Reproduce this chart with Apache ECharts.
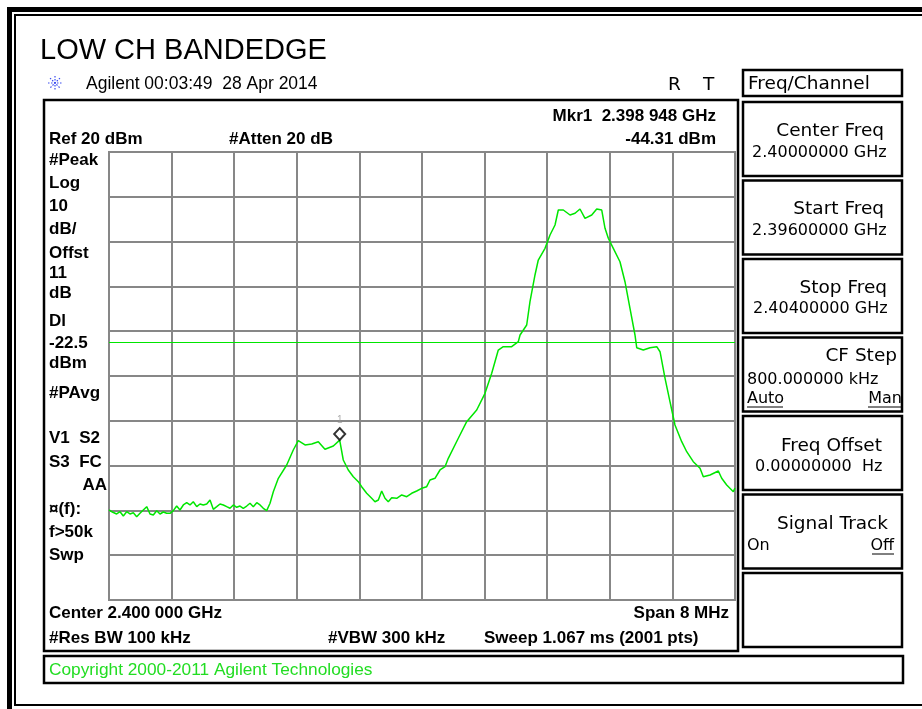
<!DOCTYPE html>
<html>
<head>
<meta charset="utf-8">
<script src="https://cdn.jsdelivr.net/npm/echarts@6/dist/echarts.min.js"></script>
<style>
    html, body { margin: 0; padding: 0; background: #fff; }
    #char1 { width: 922px; height: 709px; }
</style>
</head>
<body>
<div id="char1"></div>
<script>
// trace: frequency (MHz) / level (dBm)
var freqMHz = [
    // noise floor
    2396.000, 2396.035, 2396.098, 2396.141, 2396.183, 2396.226, 2396.268, 2396.311, 2396.354, 2396.396,
    2396.438, 2396.482, 2396.524, 2396.566, 2396.610, 2396.652, 2396.694, 2396.737, 2396.780, 2396.822,
    2396.865, 2396.907, 2396.950, 2396.993, 2397.035, 2397.077, 2397.121, 2397.163, 2397.205, 2397.249,
    2397.291, 2397.333, 2397.377, 2397.419, 2397.461, 2397.504, 2397.546, 2397.589, 2397.632, 2397.674,
    2397.716, 2397.760, 2397.802, 2397.844, 2397.888, 2397.930, 2397.972, 2398.015, 2398.058, 2398.100,
    // first hump
    2398.164, 2398.271, 2398.355, 2398.419, 2398.505, 2398.591, 2398.675, 2398.760, 2398.867, 2398.948,
    // valley
    2398.994, 2399.058, 2399.122, 2399.186, 2399.229, 2399.293, 2399.357, 2399.399, 2399.442, 2399.485,
    2399.527, 2399.569, 2399.613, 2399.677, 2399.741, 2399.805, 2399.868, 2399.932, 2399.996, 2400.060,
    2400.102, 2400.166, 2400.230, 2400.294, 2400.336,
    // main lobe and upper skirt
    2400.464, 2400.571, 2400.699, 2400.805, 2400.891, 2400.975, 2401.039, 2401.146, 2401.231, 2401.253,
    2401.338, 2401.380, 2401.444, 2401.486, 2401.572, 2401.636, 2401.700, 2401.742, 2401.806, 2401.892,
    2401.956, 2402.019, 2402.083, 2402.169, 2402.233, 2402.297, 2402.339, 2402.381, 2402.445, 2402.530,
    2402.594, 2402.658, 2402.722, 2402.744, 2402.828, 2402.914, 2403.000, 2403.042, 2403.106, 2403.169,
    2403.233, 2403.319, 2403.383, 2403.467, 2403.553, 2403.595, 2403.681, 2403.787, 2403.830, 2403.894,
    2403.979, 2404.000];
var levelDbm = [
    -59.91, -60.29, -60.80, -60.29, -61.25, -60.29, -60.80, -60.51, -61.40, -60.65,
    -59.91, -59.17, -60.80, -61.03, -60.06, -60.80, -60.36, -60.65, -60.65, -60.06,
    -59.02, -59.91, -58.79, -58.28, -58.79, -58.06, -59.17, -58.57, -58.79, -58.57,
    -57.68, -59.75, -59.17, -58.57, -58.79, -59.17, -59.53, -58.79, -59.31, -59.02,
    -59.53, -59.02, -58.41, -59.17, -58.28, -58.79, -59.53, -60.06, -58.41, -55.82,
    -52.83, -49.87, -46.52, -44.44, -45.40, -45.18, -44.66, -46.36, -45.62, -44.31,
    -48.75, -50.98, -52.48, -53.59, -54.71, -56.18, -57.30, -58.06, -57.68, -55.67,
    -57.30, -58.06, -57.16, -57.30, -56.56, -56.94, -56.18, -55.67, -55.07, -54.71,
    -53.21, -52.83, -50.98, -50.24, -48.37,
    -43.90, -40.20, -37.59, -33.86, -29.40, -24.20, -23.46, -23.46, -22.34, -20.85,
    -18.62, -13.41, -7.45, -4.11, -1.50, 1.47, 3.71, 7.05, 7.05, 5.94,
    6.32, 7.28, 5.20, 5.94, 7.28, 7.05, 2.97, 0.74, -1.50, -4.49,
    -8.95, -14.89, -20.85, -23.68, -24.20, -23.68, -23.46, -24.58, -30.51, -35.74,
    -40.94, -44.66, -46.90, -49.13, -50.60, -52.48, -52.10, -51.20, -52.83, -54.33,
    -55.82, -55.00];

var marker = [2398.948, -44.31];   // Mkr1
var displayLine = -22.5;            // DL
var refLevel = 20, dbPerDiv = 10;   // Ref 20 dBm, 10 dB/div
var startMHz = 2396, stopMHz = 2404, stepMHz = 0.8;

var leftLabels = ['#Peak', 'Log', '10', 'dB/', 'Offst', '11', 'dB', 'Dl', '-22.5', 'dBm', '#PAvg',
    'V1  S2', 'S3  FC', 'AA', '\u00a4(f):', 'f>50k', 'Swp'];
var leftLabelY = [160, 183, 206, 229, 253, 273, 293, 321, 343, 363, 393, 438, 462, 485, 509, 532, 555];

var traceData = [];
var n = Math.min(freqMHz.length, levelDbm.length);
for (var i = 0; i < n; i++) {
    traceData.push([freqMHz[i], levelDbm[i]]);
}

var BOLD = 'bold 17px "Liberation Sans", Arial, sans-serif';
var PANEL = '18.5px "DejaVu Sans", sans-serif';
var PANEL_SM = '16px "DejaVu Sans", sans-serif';

function txt(x, y, s, font, fill, align) {
    return {
        type: 'text', x: x, y: y, silent: true,
        style: {text: s, font: font, fill: fill || '#000', textAlign: align || 'left', textVerticalAlign: 'middle'}
    };
}
function box(x, y, w, h, lw) {
    return {
        type: 'rect', silent: true, shape: {x: x, y: y, width: w, height: h},
        style: {fill: null, stroke: '#000', lineWidth: lw || 2.5}
    };
}
function bar(x, y, w, h) {
    return {type: 'rect', silent: true, shape: {x: x, y: y, width: w, height: h}, style: {fill: '#000'}};
}
function uline(x1, x2, y) {
    return {type: 'line', silent: true, shape: {x1: x1, y1: y, x2: x2, y2: y}, style: {stroke: '#000', lineWidth: 1}};
}

var graphics = [
    // outer double frame
    bar(7, 7, 915, 5), bar(7, 7, 5, 702),
    bar(14, 14, 908, 2), bar(14, 14, 2, 692), bar(14, 704, 908, 2),
    // screen and copyright boxes
    box(44, 100, 694, 551), box(44, 656, 859, 27),
    // title lines
    txt(40, 51, 'LOW CH BANDEDGE', '29px "Liberation Sans", Arial, sans-serif'),
    txt(86, 84, 'Agilent 00:03:49  28 Apr 2014', '17.5px "Liberation Sans", Arial, sans-serif'),
    txt(668, 85, 'R', PANEL), txt(703, 85, 'T', PANEL),
    // header inside screen
    txt(49, 139, 'Ref 20 dBm', BOLD), txt(229, 139, '#Atten 20 dB', BOLD),
    txt(716, 116, 'Mkr1  2.398 948 GHz', BOLD, '#000', 'right'),
    txt(716, 139, '-44.31 dBm', BOLD, '#000', 'right'),
    // footer inside screen
    txt(49, 613, 'Center 2.400 000 GHz', BOLD), txt(729, 613, 'Span 8 MHz', BOLD, '#000', 'right'),
    txt(49, 638, '#Res BW 100 kHz', BOLD), txt(328, 638, '#VBW 300 kHz', BOLD),
    txt(484, 638, 'Sweep 1.067 ms (2001 pts)', BOLD),
    txt(49, 670, 'Copyright 2000-2011 Agilent Technologies', '17.3px "Liberation Sans", Arial, sans-serif', '#22dd22'),
    // softkey panel
    box(743, 70, 159, 26), txt(748, 84, 'Freq/Channel', PANEL)
];

// agilent spark logo
for (var a = 0; a < 4; a++) {
    var ang = a * Math.PI / 4;
    graphics.push({
        type: 'line', silent: true,
        shape: {x1: 55 - 7 * Math.cos(ang), y1: 83 - 7 * Math.sin(ang), x2: 55 + 7 * Math.cos(ang), y2: 83 + 7 * Math.sin(ang)},
        style: {stroke: '#3b4cf0', lineWidth: 1.2, lineDash: [1.5, 1.5]}
    });
}

leftLabels.forEach(function (s, i) {
    if (s === 'AA') {
        graphics.push(txt(107, leftLabelY[i], s, BOLD, '#000', 'right'));
    } else {
        graphics.push(txt(49, leftLabelY[i], s, BOLD));
    }
});

var keyTops = [102, 180.5, 259, 337.5, 416, 494.5, 573];
keyTops.forEach(function (t) { graphics.push(box(743, t, 159, 74)); });
graphics.push(
    txt(884, 131, 'Center Freq', PANEL, '#000', 'right'), txt(752, 153, '2.40000000 GHz', PANEL_SM),
    txt(884, 209, 'Start Freq', PANEL, '#000', 'right'), txt(752, 231, '2.39600000 GHz', PANEL_SM),
    txt(887, 288, 'Stop Freq', PANEL, '#000', 'right'), txt(753, 309, '2.40400000 GHz', PANEL_SM),
    txt(897, 356, 'CF Step', PANEL, '#000', 'right'), txt(747, 380, '800.000000 kHz', PANEL_SM),
    txt(747, 399, 'Auto', PANEL_SM), uline(747, 783, 407),
    txt(902, 399, 'Man', PANEL_SM, '#000', 'right'), uline(868, 902, 407),
    txt(882, 446, 'Freq Offset', PANEL, '#000', 'right'), txt(755, 467, '0.00000000  Hz', PANEL_SM),
    txt(888, 524, 'Signal Track', PANEL, '#000', 'right'),
    txt(747, 546, 'On', PANEL_SM), txt(894, 546, 'Off', PANEL_SM, '#000', 'right'), uline(872, 894, 554)
);

var chart = echarts.init(document.getElementById('char1'));
var gridStyle = {color: '#878787', width: 2};
chart.setOption({
    animation: false,
    backgroundColor: '#fff',
    grid: {left: 109, top: 152, width: 626, height: 448, show: true, borderColor: '#878787', borderWidth: 2},
    xAxis: {
        type: 'value', min: startMHz, max: stopMHz, interval: stepMHz,
        axisLine: {show: false}, axisTick: {show: false}, axisLabel: {show: false},
        splitLine: {show: true, lineStyle: gridStyle}
    },
    yAxis: {
        type: 'value', min: refLevel - 10 * dbPerDiv, max: refLevel, interval: dbPerDiv,
        axisLine: {show: false}, axisTick: {show: false}, axisLabel: {show: false},
        splitLine: {show: true, lineStyle: gridStyle}
    },
    series: [
        {
            type: 'line', data: traceData, symbol: 'none', z: 3,
            lineStyle: {color: '#00e600', width: 1.5},
            markLine: {
                silent: true, symbol: ['none', 'none'], label: {show: false},
                lineStyle: {color: '#00e600', width: 1, type: 'solid'},
                data: [{yAxis: displayLine}]
            }
        },
        {
            type: 'scatter', data: [marker], symbol: 'diamond', symbolSize: [11, 12], symbolOffset: [0, -6], z: 5,
            itemStyle: {color: '#fff', borderColor: '#000', borderWidth: 2},
            label: {show: true, formatter: '1', position: 'top', distance: 2, color: '#999', fontSize: 10}
        }
    ],
    graphic: graphics
});
</script>
</body>
</html>
